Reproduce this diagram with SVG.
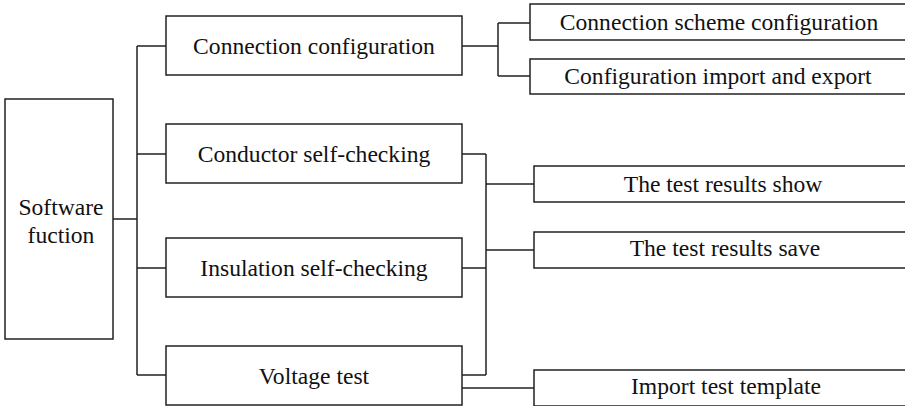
<svg xmlns="http://www.w3.org/2000/svg" width="905" height="406" viewBox="0 0 905 406">
<style>
.box{fill:#fff;stroke:#222;stroke-width:1.5}
.ln{fill:none;stroke:#222;stroke-width:1.5}
text{font-family:"Liberation Serif","Times New Roman",serif;font-size:23.6px;fill:#111;text-anchor:middle}
</style>
<rect width="905" height="406" fill="#fff"/>
<g id="connectors">
<path class="ln" d="M113 219H137M137 46V375M137 46H166M137 154H166M137 268H166M137 375H166"/>
<path class="ln" d="M462 46H498M498 23V76M498 23H530M498 76H530"/>
<path class="ln" d="M462 154H486M462 268H486M462 375H486M486 154V375M486 184H534M486 250H534"/>
<path class="ln" d="M462 388H534"/>
</g>
<g id="software"><rect class="box" x="5" y="99" width="108" height="240"/><text x="61" y="215">Software</text><text x="61" y="243">fuction</text></g>
<g id="conn"><rect class="box" x="166" y="16" width="296" height="59"/><text x="314" y="54">Connection configuration</text></g>
<g id="cond"><rect class="box" x="166" y="124" width="296" height="59"/><text x="314" y="162">Conductor self-checking</text></g>
<g id="insu"><rect class="box" x="166" y="238" width="296" height="59"/><text x="314" y="276">Insulation self-checking</text></g>
<g id="volt"><rect class="box" x="166" y="346" width="296" height="59"/><text x="314" y="384">Voltage test</text></g>
<g id="scheme"><rect class="box" x="530" y="4" width="390" height="36"/><text x="719" y="30">Connection scheme configuration</text></g>
<g id="impexp"><rect class="box" x="530" y="59" width="390" height="35"/><text x="718" y="84">Configuration import and export</text></g>
<g id="show"><rect class="box" x="534" y="166" width="390" height="36"/><text x="723" y="192">The test results show</text></g>
<g id="save"><rect class="box" x="534" y="232" width="390" height="36"/><text x="725" y="256">The test results save</text></g>
<g id="template"><rect class="box" x="534" y="370" width="390" height="36"/><text x="726" y="394">Import test template</text></g>
</svg>
